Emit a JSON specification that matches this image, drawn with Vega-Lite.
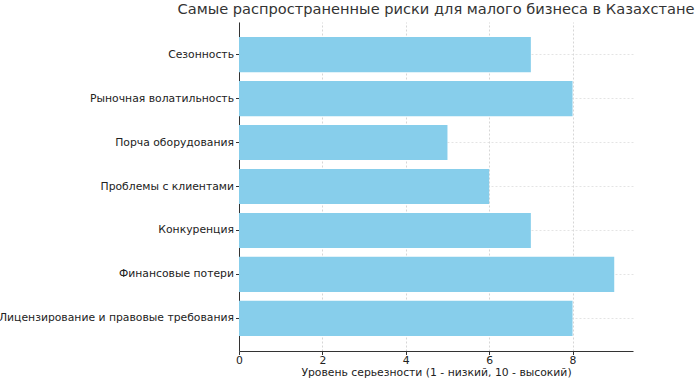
{
  "$schema": "https://vega.github.io/schema/vega-lite/v6.json",
  "width": 394,
  "height": 329,
  "autosize": {"type": "none"},
  "padding": {"left": 239, "top": 22, "right": 63, "bottom": 38},
  "background": "white",
  "title": {
    "text": "Самые распространенные риски для малого бизнеса в Казахстане",
    "font": "DejaVu Sans",
    "fontSize": 14.6,
    "fontWeight": "normal",
    "color": "#333333",
    "anchor": "middle",
    "offset": 5
  },
  "data": {
    "values": [
      {"risk": "Сезонность", "level": 7},
      {"risk": "Рыночная волатильность", "level": 8},
      {"risk": "Порча оборудования", "level": 5},
      {"risk": "Проблемы с клиентами", "level": 6},
      {"risk": "Конкуренция", "level": 7},
      {"risk": "Финансовые потери", "level": 9},
      {"risk": "Лицензирование и правовые требования", "level": 8}
    ]
  },
  "mark": {"type": "bar", "color": "#87CEEB"},
  "encoding": {
    "y": {
      "field": "risk",
      "type": "nominal",
      "sort": null,
      "title": null,
      "scale": {"paddingInner": 0.2, "paddingOuter": 0.34},
      "axis": {
        "labelFont": "DejaVu Sans",
        "labelFontSize": 10.8,
        "labelColor": "#222222",
        "labelLimit": 0,
        "domainColor": "#333333",
        "tickColor": "#333333",
        "tickSize": 3.5,
        "labelPadding": 2,
        "grid": true,
        "gridDash": [2, 2],
        "gridColor": "#dddddd",
        "gridWidth": 0.8
      }
    },
    "x": {
      "field": "level",
      "type": "quantitative",
      "scale": {"domain": [0, 9.45], "nice": false, "zero": true},
      "title": "Уровень серьезности (1 - низкий, 10 - высокий)",
      "axis": {
        "values": [0, 2, 4, 6, 8],
        "labelFlush": false,
        "labelFont": "DejaVu Sans",
        "labelFontSize": 10.8,
        "labelColor": "#222222",
        "titleFont": "DejaVu Sans",
        "titleFontSize": 10.8,
        "titleFontWeight": "normal",
        "titleColor": "#222222",
        "titlePadding": 1,
        "domainColor": "#333333",
        "tickColor": "#333333",
        "tickSize": 3.5,
        "labelPadding": 0,
        "grid": true,
        "gridDash": [2, 2],
        "gridColor": "#cccccc",
        "gridWidth": 0.8
      }
    }
  },
  "config": {"view": {"stroke": null}}
}
